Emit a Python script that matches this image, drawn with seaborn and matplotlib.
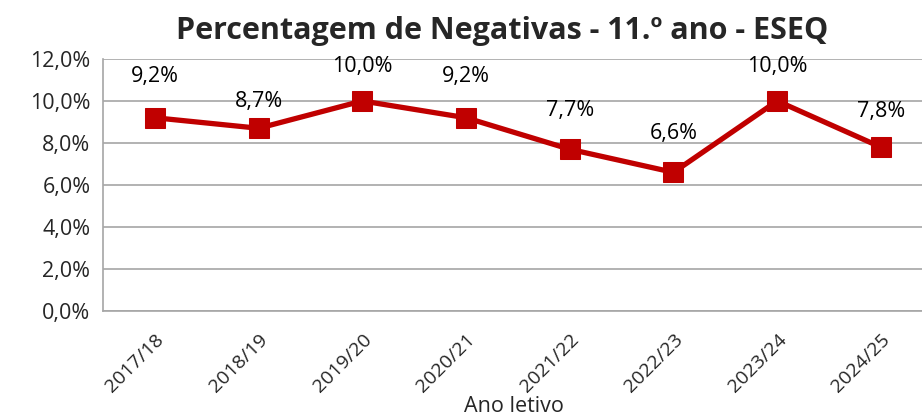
import matplotlib
matplotlib.use("Agg")
import matplotlib.pyplot as plt
import matplotlib.transforms as mtrans
import seaborn as sns
import pandas as pd
from matplotlib.ticker import FixedLocator, FuncFormatter

anos = ["2017/18", "2018/19", "2019/20", "2020/21", "2021/22", "2022/23", "2023/24", "2024/25"]
negativas = [9.2, 8.7, 10.0, 9.2, 7.7, 6.6, 10.0, 7.8]
titulo = "Percentagem de Negativas - 11.º ano - ESEQ"
eixo_x = "Ano letivo"

sns.set_theme(style="white")
plt.rcParams["font.family"] = ["Open Sans", "DejaVu Sans"]

df = pd.DataFrame({"ano": anos, "pct": negativas, "pos": range(len(anos))})

fig = plt.figure(figsize=(9.22, 4.18), dpi=100)
ax = fig.add_axes([0.1117, 0.256, 0.9, 0.603])

red = "#C00000"
grey = "#A6A6A6"

sns.lineplot(data=df, x="pos", y="pct", ax=ax, color=red, linewidth=3.8,
             marker="s", markersize=14, markeredgecolor=red, markerfacecolor=red)

ax.set_xlim(-0.5, len(anos) - 0.5)
ax.set_ylim(0, 12)
ax.yaxis.set_major_locator(FixedLocator([0, 2, 4, 6, 8, 10, 12]))
ax.yaxis.set_major_formatter(FuncFormatter(lambda v, p: f"{v:.1f}%".replace(".", ",")))
ax.grid(axis="y", color=grey, linewidth=1.2)
ax.set_axisbelow(True)

ax.set_xticks(range(len(anos)))
ax.set_xticklabels(anos, rotation=45, ha="right", va="top", rotation_mode="anchor", fontsize=14)
shift = mtrans.ScaledTranslation(10 / 100, 0, fig.dpi_scale_trans)
for lbl in ax.get_xticklabels():
    lbl.set_transform(lbl.get_transform() + shift)
ax.xaxis.set_minor_locator(FixedLocator([i - 0.5 for i in range(len(anos) + 1)]))
ax.tick_params(axis="x", which="major", length=0, pad=14)
ax.tick_params(axis="x", which="minor", length=6, color=grey, width=1.2, direction="out")
ax.tick_params(axis="y", length=6, color=grey, width=1.2, direction="out", labelsize=15.5, pad=3)

for s in ["top", "right"]:
    ax.spines[s].set_visible(False)
for s in ["left", "bottom"]:
    ax.spines[s].set_color(grey)
    ax.spines[s].set_linewidth(1.2)

ax.set_xlabel("")
ax.set_ylabel("")

offsets = [30, 19, 25, 30, 28, 28, 25, 26]
for i, v in enumerate(negativas):
    ax.annotate(f"{v:.1f}%".replace(".", ","), (i, v), xytext=(0, offsets[i]),
                textcoords="offset points", ha="center", va="center", fontsize=15.5,
                color="#000000")

fig.text(0.5447, 0.925, titulo, ha="center", va="center", fontsize=22, fontweight="bold")
fig.text(0.557, 0.028, eixo_x, ha="center", va="center", fontsize=15.5)

fig.savefig("out.png", dpi=100)
